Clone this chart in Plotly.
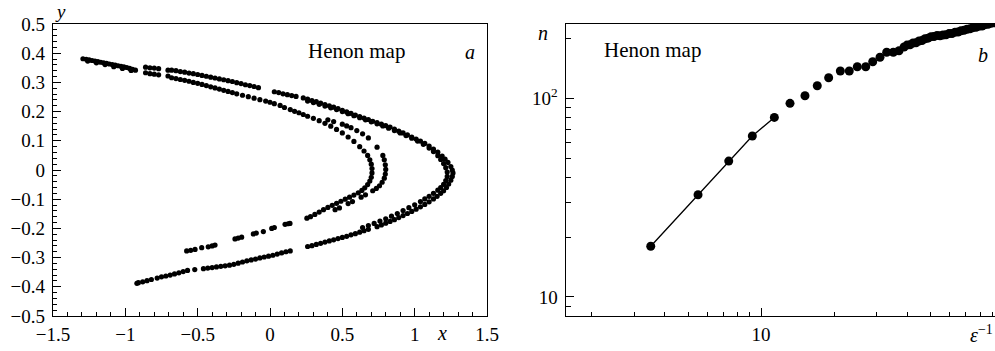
import plotly.graph_objects as go

# ---------------- Panel a: Henon map attractor ----------------
outer_x = [-0.86, -0.83, -0.80, -0.77, -0.705, -0.68, -0.65, -0.62, -0.59, -0.56, -0.53, -0.50, -0.47, -0.44,
           -0.41, -0.38, -0.35, -0.32, -0.29, -0.26, -0.23, -0.20, -0.17, -0.14, -0.11, -0.08,
           0.03, 0.06, 0.09, 0.12, 0.15, 0.18, 0.23, 0.26, 0.29, 0.32, 0.35, 0.38, 0.41, 0.44, 0.47,
           0.50, 0.53, 0.56, 0.59, 0.62, 0.65, 0.68, 0.71, 0.74, 0.77, 0.80, 0.83, 0.86, 0.89, 0.92,
           0.95, 0.98, 1.01, 1.04, 1.07, 1.10, 1.13, 1.16, 1.19, 1.21, 1.23, 1.25, 1.26, 1.265, 1.26,
           1.25, 1.235, 1.22, 1.20, 1.18, 1.155, 1.13, 1.10, 1.07, 1.04, 1.01, 0.98, 0.95, 0.92, 0.89,
           0.86, 0.83, 0.80, 0.77, 0.74, 0.68, 0.65, 0.62, 0.59, 0.56, 0.53, 0.50, 0.47, 0.44, 0.41,
           0.38, 0.35, 0.32, 0.29, 0.26, 0.14, 0.11, 0.08, 0.05, 0.02, -0.01, -0.04, -0.07, -0.10,
           -0.13, -0.16, -0.19, -0.22, -0.25, -0.28, -0.31, -0.34, -0.37, -0.40, -0.43, -0.46, -0.52,
           -0.57, -0.60, -0.63, -0.66, -0.69, -0.72, -0.75, -0.78, -0.82, -0.85, -0.88, -0.91, -0.92]
outer_y = [0.352, 0.350, 0.349, 0.347, 0.342, 0.342, 0.340, 0.337, 0.335, 0.332, 0.330, 0.327, 0.324, 0.321,
           0.318, 0.315, 0.312, 0.309, 0.306, 0.303, 0.299, 0.296, 0.292, 0.289, 0.286, 0.282,
           0.268, 0.265, 0.261, 0.258, 0.255, 0.252, 0.247, 0.243, 0.238, 0.234, 0.229, 0.224, 0.220, 0.215, 0.210,
           0.204, 0.199, 0.194, 0.188, 0.183, 0.178, 0.173, 0.167, 0.162, 0.157, 0.152, 0.147, 0.140, 0.133, 0.127,
           0.120, 0.113, 0.106, 0.099, 0.091, 0.082, 0.072, 0.061, 0.048, 0.037, 0.026, 0.012, 0.000, -0.010, -0.022,
           -0.035, -0.048, -0.060, -0.071, -0.080, -0.090, -0.099, -0.109, -0.118, -0.126, -0.134, -0.142, -0.149, -0.156, -0.163,
           -0.170, -0.176, -0.182, -0.188, -0.194, -0.203, -0.208, -0.213, -0.218, -0.222, -0.227, -0.231, -0.235, -0.239, -0.243,
           -0.247, -0.251, -0.255, -0.259, -0.262, -0.277, -0.280, -0.284, -0.288, -0.292, -0.295, -0.298, -0.301, -0.305,
           -0.308, -0.311, -0.315, -0.319, -0.323, -0.326, -0.328, -0.330, -0.332, -0.334, -0.336, -0.338, -0.341,
           -0.344, -0.348, -0.352, -0.356, -0.360, -0.363, -0.366, -0.370, -0.375, -0.379, -0.383, -0.386, -0.388]

outer2_x = [0.26, 0.30, 0.34, 0.38, 0.42, 0.46, 0.50, 0.54, 0.58, 0.62, 0.66, 0.70, 0.74, 0.78, 0.82, 0.86,
            0.90, 0.94, 0.98, 1.02, 1.06, 1.10, 1.13, 1.16, 1.18, 1.20, 1.215, 1.225, 1.225, 1.215, 1.20,
            1.18, 1.16, 1.13, 1.10, 1.07, 1.04, 1.00, 0.96, 0.92, 0.88, 0.84, 0.80, 0.76, 0.72, 0.68, 0.64]
outer2_y = [0.236, 0.231, 0.225, 0.219, 0.213, 0.207, 0.200, 0.193, 0.186, 0.179, 0.172, 0.165, 0.158, 0.151, 0.143, 0.135,
            0.127, 0.118, 0.109, 0.099, 0.088, 0.075, 0.063, 0.049, 0.036, 0.022, 0.008, -0.007, -0.022, -0.036, -0.049,
            -0.060, -0.069, -0.080, -0.090, -0.099, -0.108, -0.119, -0.129, -0.139, -0.149, -0.158, -0.167, -0.175, -0.183, -0.190, -0.197]

tip_x = [-1.293, -1.27, -1.25, -1.23, -1.21, -1.19, -1.17, -1.15, -1.13, -1.11, -1.09, -1.07, -1.05, -1.03,
         -1.01, -0.99, -0.97, -0.95, -0.93, -1.26, -1.20, -1.14, -1.08, -1.02, -0.96,
         -0.86, -0.83, -0.80, -0.77, -0.705, -0.68, -0.65, -0.62, -0.59, -0.56, -0.53, -0.50, -0.47, -0.44,
         -0.41, -0.38, -0.35, -0.32, -0.29, -0.26, -0.23, -0.19, -0.15, -0.11, -0.07, -0.03, 0.00, 0.03,
         0.07, 0.10, 0.14, 0.17, 0.20, 0.23]
tip_y = [0.381, 0.379, 0.377, 0.375, 0.373, 0.371, 0.369, 0.367, 0.365, 0.363, 0.361, 0.359, 0.357, 0.355,
         0.353, 0.351, 0.348, 0.345, 0.342, 0.373, 0.367, 0.361, 0.354, 0.348, 0.341,
         0.333, 0.330, 0.328, 0.326, 0.322, 0.316, 0.313, 0.310, 0.307, 0.304, 0.300, 0.297, 0.293, 0.289,
         0.285, 0.281, 0.277, 0.273, 0.269, 0.265, 0.261, 0.256, 0.251, 0.246, 0.241, 0.236, 0.232, 0.227,
         0.221, 0.214, 0.207, 0.201, 0.196, 0.190]

inner1_x = [0.26, 0.30, 0.34, 0.38, 0.42, 0.46, 0.50, 0.54, 0.58, 0.62, 0.65, 0.675, 0.69, 0.70, 0.705, 0.705,
            0.70, 0.69, 0.675, 0.655, 0.635, 0.61, 0.58, 0.55, 0.52, 0.49, 0.46, 0.43, 0.40, 0.37, 0.34, 0.31,
            0.28, 0.255, 0.138, 0.125, 0.104, 0.03, 0.012, -0.046, -0.095, -0.115, -0.196, -0.22, -0.242,
            -0.38, -0.40, -0.427, -0.472, -0.518, -0.548, -0.576]
inner1_y = [0.184, 0.177, 0.169, 0.160, 0.150, 0.139, 0.127, 0.113, 0.098, 0.080, 0.065, 0.050, 0.035, 0.020, 0.005, -0.010,
            -0.025, -0.038, -0.050, -0.061, -0.070, -0.078, -0.086, -0.093, -0.100, -0.107, -0.114, -0.121, -0.128, -0.136, -0.144, -0.152,
            -0.160, -0.165, -0.183, -0.184, -0.186, -0.197, -0.200, -0.211, -0.216, -0.219, -0.230, -0.233, -0.236,
            -0.257, -0.260, -0.263, -0.266, -0.272, -0.275, -0.277]

inner2_x = [0.40, 0.44, 0.50, 0.53, 0.56, 0.60, 0.64, 0.68, 0.74, 0.78, 0.79, 0.797, 0.80, 0.797,
            0.79, 0.775, 0.757, 0.735, 0.71, 0.66, 0.63, 0.57, 0.54, 0.48, 0.45]
inner2_y = [0.172, 0.166, 0.157, 0.151, 0.145, 0.135, 0.124, 0.110, 0.078, 0.050, 0.035, 0.018, 0.002, -0.014,
            -0.028, -0.042, -0.054, -0.063, -0.071, -0.085, -0.093, -0.108, -0.115, -0.130, -0.136]

# ---------------- Panel b: n versus 1/epsilon ----------------
eps_inv = [3.51, 5.50, 7.36, 9.21, 11.35, 13.17, 15.18, 17.06, 19.01, 21.24, 23.12, 24.95, 27.03, 28.88,
           30.95, 32.98, 35.12, 37.07, 38.89, 40.01, 41.17, 42.35, 43.58, 44.83, 46.12, 47.46, 48.83, 50.24,
           51.69, 53.19, 54.72, 56.30, 57.93, 59.61, 61.32, 63.10, 64.92, 66.79, 68.72, 70.71, 72.75, 74.84,
           77.01, 79.25, 81.53, 83.88, 86.31, 88.81, 91.38]
n_count = [18.0, 32.7, 48.3, 64.6, 80.2, 94.4, 103.1, 115.7, 127.0, 137.3, 137.3, 144.3, 144.3, 152.9,
           161.0, 170.6, 170.6, 173.8, 181.5, 185.5, 186.0, 190.0, 190.5, 194.5, 195.5, 199.5, 201.0, 204.5,
           205.0, 207.5, 206.5, 208.5, 209.0, 212.0, 212.0, 215.5, 216.0, 219.0, 220.0, 223.0, 224.0, 227.0,
           228.0, 231.0, 231.5, 235.0, 236.0, 239.0, 240.0]
n_fit = 5  # first points joined by the straight line

left_xticks_minor = 0.1
right_x_minor = [2, 3, 4, 5, 6, 7, 8, 9, 20, 30, 40, 50, 60, 70, 80, 90]
right_y_minor = [9, 20, 30, 40, 50, 60, 70, 80, 90, 200]

W, H = 995, 351
SERIF = "Liberation Serif"

fig = go.Figure()
for xs, ys in [(outer_x, outer_y), (outer2_x, outer2_y), (tip_x, tip_y), (inner1_x, inner1_y), (inner2_x, inner2_y)]:
    fig.add_trace(go.Scatter(x=xs, y=ys, mode="markers", xaxis="x", yaxis="y",
                             marker=dict(color="black", size=5.2, line=dict(width=0)),
                             showlegend=False, hoverinfo="skip"))

fig.add_trace(go.Scatter(x=eps_inv[:n_fit], y=n_count[:n_fit], mode="lines", xaxis="x2", yaxis="y2",
                         line=dict(color="black", width=1.3), showlegend=False, hoverinfo="skip"))
fig.add_trace(go.Scatter(x=eps_inv, y=n_count, mode="markers", xaxis="x2", yaxis="y2",
                         marker=dict(color="black", size=9, line=dict(width=0)),
                         showlegend=False, hoverinfo="skip"))

ydom = [(H - 316) / H, (H - 24) / H]
axis_common = dict(showline=True, linecolor="black", linewidth=1.4, showgrid=False, zeroline=False,
                   automargin=False,
                   ticks="inside", tickcolor="black", tickwidth=1.2, ticklen=8,
                   tickfont=dict(family=SERIF, size=19, color="black"))

fig.update_layout(
    width=W, height=H, margin=dict(l=0, r=0, t=0, b=0, autoexpand=False),
    paper_bgcolor="white", plot_bgcolor="white",
    font=dict(family=SERIF, size=19, color="black"),
    xaxis=dict(domain=[53 / W, 487 / W], range=[-1.5, 1.5], anchor="y", mirror=True,
               tickmode="linear", tick0=0, dtick=0.5, ticklabelstandoff=1,
               minor=dict(dtick=left_xticks_minor, tick0=0, ticks="inside", ticklen=4, tickwidth=1.2, tickcolor="black"),
               **axis_common),
    yaxis=dict(domain=ydom, range=[-0.5, 0.5], anchor="x", mirror=True,
               tickmode="linear", tick0=0, dtick=0.1, ticklabelstandoff=3,
               minor=dict(dtick=0.02, tick0=0, ticks="inside", ticklen=4, tickwidth=1.2, tickcolor="black"),
               **axis_common),
    xaxis2=dict(domain=[565.7 / W, 1.0], type="log", range=[0.1946, 1.9649], anchor="y2", mirror=True,
                tickmode="array", tickvals=[10], ticktext=["10"], ticklabelstandoff=1,
                minor=dict(tickmode="array", tickvals=right_x_minor, ticks="inside", ticklen=4, tickwidth=1.2, tickcolor="black"),
                **axis_common),
    yaxis2=dict(domain=ydom, type="log", range=[0.904, 2.3745], anchor="x2", mirror=False,
                tickmode="array", tickvals=[10, 100], ticktext=["10", "10<sup>2</sup>"], ticklabelstandoff=3,
                minor=dict(tickmode="array", tickvals=right_y_minor, ticks="inside", ticklen=5, tickwidth=1.2, tickcolor="black"),
                **axis_common),
)

def ann(text, px, py, size=19, italic=False, xanchor="center", yanchor="middle"):
    if italic:
        text = "<i>" + text + "</i>"
    fig.add_annotation(text=text, x=px / W, y=1 - py / H, xref="paper", yref="paper",
                       xanchor=xanchor, yanchor=yanchor, showarrow=False, borderpad=0,
                       font=dict(family=SERIF, size=size, color="black"))

ann("Henon map", 356, 51, size=21)
ann("a", 470, 52, size=20, italic=True)
ann("y", 60, 0, italic=True, size=19, yanchor="top")
ann("x", 442, 333, italic=True, size=20)
ann("Henon map", 652, 50, size=21)
ann("b", 983, 55, size=20, italic=True)
ann("n", 543, 33, italic=True, size=20)
ann("<i>ε</i><sup>−1</sup>", 981, 334, size=20)

fig.write_html("out.html")
